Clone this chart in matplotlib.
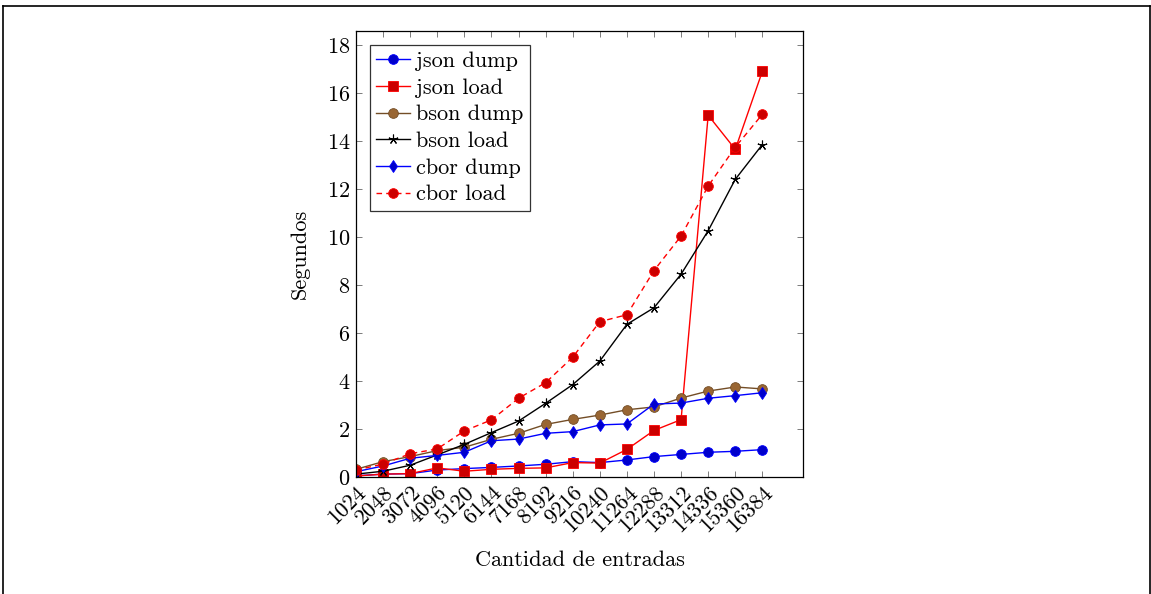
import matplotlib
matplotlib.use('Agg')
import matplotlib.pyplot as plt
from matplotlib.lines import Line2D

plt.rcParams.update({'font.family': 'serif',
                     'font.serif': ['cmr10'],
                     'mathtext.fontset': 'cm',
                     'axes.formatter.use_mathtext': True,
                     'font.size': 16,
                     'xtick.labelsize': 16,
                     'ytick.labelsize': 16,
                     'axes.linewidth': 0.9})

entradas = [1024, 2048, 3072, 4096, 5120, 6144, 7168, 8192, 9216, 10240,
            11264, 12288, 13312, 14336, 15360, 16384]

json_dump = [0.05, 0.12, 0.14, 0.29, 0.35, 0.40, 0.46, 0.53, 0.64, 0.60,
             0.71, 0.85, 0.94, 1.03, 1.07, 1.14]
json_load = [0.04, 0.12, 0.14, 0.38, 0.24, 0.32, 0.36, 0.38, 0.60, 0.58,
             1.15, 1.94, 2.39, 15.07, 13.65, 16.90]
bson_dump = [0.32, 0.64, 0.85, 1.10, 1.24, 1.57, 1.82, 2.19, 2.40, 2.58,
             2.80, 2.92, 3.29, 3.58, 3.75, 3.67]
bson_load = [0.12, 0.24, 0.49, 0.92, 1.36, 1.85, 2.33, 3.07, 3.85, 4.83,
             6.36, 7.05, 8.45, 10.26, 12.40, 13.85]
cbor_dump = [0.22, 0.46, 0.78, 0.90, 1.03, 1.51, 1.58, 1.82, 1.89, 2.17,
             2.21, 3.04, 3.08, 3.28, 3.39, 3.51]
cbor_load = [0.29, 0.54, 0.97, 1.17, 1.92, 2.38, 3.28, 3.93, 4.99, 6.47,
             6.76, 8.60, 10.04, 12.12, 13.74, 15.11]

blue = (0, 0, 1)
blue_f = (0, 0, 0.8)
red = (1, 0, 0)
red_f = (0.8, 0, 0)
brown = (0.45, 0.30, 0.15)
brown_f = (0.6, 0.4, 0.2)

fig = plt.figure(figsize=(11.51, 5.94), dpi=100)
ax = fig.add_axes([356/1151, 117/594, 447/1151, 446/594])

ms = 7
ax.plot(entradas, json_dump, color=blue, lw=1.0, marker='o', ms=ms,
        mfc=blue_f, mec=blue, mew=0.6, label='json dump')
ax.plot(entradas, json_load, color=red, lw=1.0, marker='s', ms=ms,
        mfc=red_f, mec=red, mew=0.6, label='json load')
ax.plot(entradas, bson_dump, color=brown, lw=1.0, marker='o', ms=ms,
        mfc=brown_f, mec=brown, mew=0.6, label='bson dump')
ax.plot(entradas, bson_load, color='black', lw=1.0, marker=(5, 2, 0), ms=ms,
        mew=0.8, label='bson load')
ax.plot(entradas, cbor_dump, color=blue, lw=1.0, marker='d', ms=6,
        mfc=blue_f, mec=blue, mew=0.6, label='cbor dump')
ax.plot(entradas, cbor_load, color=red, lw=1.0, ls=(0, (4, 3)), marker='o', ms=ms,
        mfc=red_f, mec=red, mew=0.6, label='cbor load')

ax.set_xlim(1024, 16384 + 1.5*1024)
ax.set_ylim(0, 18.58)
ax.set_xticks(entradas)
ax.set_xticklabels([str(v) for v in entradas], rotation=45, ha='right',
                   rotation_mode='anchor')
ax.set_yticks(range(0, 19, 2))
ax.tick_params(direction='in', top=True, right=True, length=4, width=0.6,
               color='0.4', pad=4)
ax.set_xlabel('Cantidad de entradas', labelpad=11)
ax.set_ylabel('Segundos', labelpad=12)

leg = ax.legend(loc='upper left', bbox_to_anchor=(0.0, 1.0), fancybox=False,
                framealpha=1, edgecolor='0.2', handlelength=1.5,
                handletextpad=0.3, labelspacing=0.32, borderpad=0.3,
                borderaxespad=0.62)
leg.get_frame().set_linewidth(0.9)

# page frame
fig.add_artist(Line2D([3/1151, 1150/1151], [1 - 6/594, 1 - 6/594], color='black', lw=1.2))
fig.add_artist(Line2D([3/1151, 3/1151], [0, 1 - 6/594], color='black', lw=1.2))
fig.add_artist(Line2D([1150/1151, 1150/1151], [0, 1 - 6/594], color='black', lw=1.2))

fig.savefig('out.png', dpi=100)
